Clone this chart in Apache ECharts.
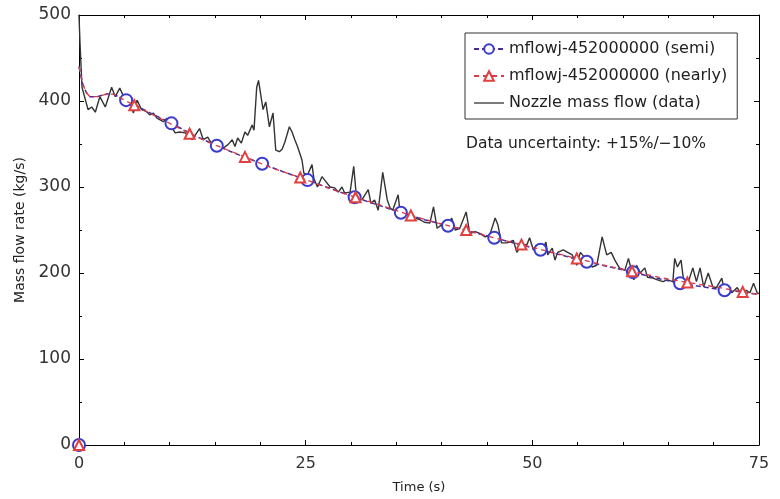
<!DOCTYPE html>
<html>
<head>
<meta charset="utf-8">
<script src="https://cdn.jsdelivr.net/npm/echarts@6/dist/echarts.min.js"></script>
<style>html,body{margin:0;padding:0;background:#fff}#c{width:780px;height:499px}</style>
</head>
<body>
<div id="c"></div>
<script>
// ---- data ----
const seriesNames = ['mflowj-452000000 (semi)', 'mflowj-452000000 (nearly)', 'Nozzle mass flow (data)'];
const xTicks = [0, 25, 50, 75];
const yTicks = [0, 100, 200, 300, 400, 500];

// null value = gap in the curve (origin point is drawn alone)
const semiTime  = [0, null, 0, 0.4, 0.8, 1.2, 2, 3, 3.8, 4.5, 5.2, 7.5, 10.2, 12.7, 15.2, 17.7, 20.2, 22.7, 25.2, 27.8, 30.4, 33, 35.5, 38.1, 40.7, 43.3, 45.8, 48.3, 50.9, 53.5, 56, 58.6, 61.1, 63.7, 66.3, 68.8, 71.2, 73, 75];
const semiValue = [0, null, 440, 420, 410, 405, 405, 408, 408, 404, 401, 388, 374, 360, 348, 337, 327, 317, 308, 298, 288, 279, 270, 262, 255, 248, 241, 234, 227, 220, 213, 207, 201, 194, 188, 184, 180, 178, 175];
const semiMarker = [1,0,0,0,0,0,0,0,0,0,1,0,1,0,1,0,1,0,1,0,1,0,1,0,1,0,1,0,1,0,1,0,1,0,1,0,1,0,0];

const nearlyTime  = [0, null, 0, 0.4, 0.8, 1.2, 2, 3, 3.8, 4.5, 6.1, 9.1, 12.2, 15.2, 18.3, 21.3, 24.4, 27.4, 30.5, 33.5, 36.6, 39.6, 42.7, 45.7, 48.8, 51.8, 54.9, 57.9, 61.0, 64.0, 67.1, 70.1, 73.2, 75];
const nearlyValue = [0, null, 440, 420, 410, 405, 405, 408, 408, 404, 395, 379, 362, 348, 335, 322, 311, 299, 288, 278, 267, 258, 250, 241, 233, 225, 217, 209, 202, 195, 189, 184, 178, 175];
const nearlyMarker = [1,0,0,0,0,0,0,0,0,0,1,0,1,0,1,0,1,0,1,0,1,0,1,0,1,0,1,0,1,0,1,0,1,0];

const dataTime = [0,0.1,0.33,1.0,1.4,1.8,2.3,2.9,3.6,4.0,4.5,5.1,5.4,6.0,6.4,6.9,7.4,7.8,8.2,8.6,9.3,9.7,10.0,10.6,11.1,11.7,12.5,12.8,13.3,13.7,14.2,14.8,15.3,15.9,16.4,16.9,17.2,17.5,17.9,18.3,18.6,19.1,19.3,19.6,19.8,20.3,20.6,21.0,21.4,21.7,22.1,22.4,22.7,23.2,23.5,23.8,24.1,24.6,24.8,25.2,25.7,25.9,26.3,26.8,27.1,27.7,28.2,28.6,29.0,29.3,29.9,30.3,30.6,31.2,31.9,32.2,32.6,33.0,33.5,34.0,34.3,34.6,35.2,35.4,35.9,36.5,37.0,37.6,38.1,38.7,39.1,39.5,40.0,40.6,41.1,41.5,42.0,42.7,43.1,43.7,44.2,44.8,45.3,45.9,46.2,46.6,47.2,47.9,48.3,48.8,49.4,49.7,50.1,50.6,51.0,51.5,51.7,52.2,52.5,52.8,53.4,53.9,54.4,54.9,55.3,55.7,56.1,56.6,57.1,57.7,58.2,58.7,59.1,59.6,60.2,60.6,61.0,61.2,61.5,61.9,62.4,62.7,63.3,63.8,64.4,64.9,65.5,65.7,66.0,66.4,66.7,67.1,67.7,68.1,68.5,68.9,69.4,69.9,70.3,70.9,71.2,71.6,72.0,72.6,73.1,73.6,74.0,74.4,74.8,75];
const dataValue = [500,470,416,390,393,387,405,393,416,405,415,401,407,386,401,390,388,384,386,380,376,380,374,363,364,363,355,360,368,355,358,347,351,345,349,355,347,357,351,364,360,372,366,416,424,390,399,370,386,343,341,344,352,370,364,355,347,331,316,314,326,310,300,312,308,300,299,294,300,293,294,324,288,285,297,281,285,273,317,285,276,273,291,271,270,267,264,262,259,258,277,252,256,252,264,250,252,271,246,248,246,242,244,264,256,235,235,238,224,233,233,241,227,229,224,236,221,229,215,224,227,224,221,209,224,219,212,207,209,242,221,224,215,206,203,217,200,192,209,200,206,195,194,192,190,192,190,217,207,215,190,186,206,190,206,184,200,184,183,194,178,184,177,183,174,180,177,188,177,176];

const uncertaintyText = 'Data uncertainty: +15%/\u221210%';

// ---- chart ----
const FONT = 'DejaVu Sans';
const chart = echarts.init(document.getElementById('c'), null, {renderer: 'canvas'});

function build(t, v, m) {
  return t.map((x, i) => {
    if (x === null || v[i] === null) return '-';
    return m[i] ? [x, v[i]] : {value: [x, v[i]], symbol: 'none'};
  });
}

function axis(extra) {
  return Object.assign({
    axisLine: {show: true, onZero: false, lineStyle: {color: '#000', width: 1}},
    axisTick: {show: true, inside: true, length: 5, lineStyle: {color: '#000'}},
    minorTick: {show: true, splitNumber: 2, length: 3, lineStyle: {color: '#000'}},
    splitLine: {show: false},
    minorSplitLine: {show: false}
  }, extra);
}
const xMinor = {show: true, splitNumber: 5, length: 3, lineStyle: {color: '#000'}};

chart.setOption({
  animation: false,
  backgroundColor: '#fff',
  textStyle: {fontFamily: FONT},
  grid: {left: 79, right: 21, top: 15, bottom: 54, containLabel: false},
  legend: {
    orient: 'vertical',
    left: 465, top: 33,
    data: [
      {name: seriesNames[0]},
      {name: seriesNames[1]},
      {name: seriesNames[2], icon: 'path://M0,0H30V1.3H0Z'}
    ],
    borderColor: '#333', borderWidth: 1, borderRadius: 0,
    padding: [8, 10, 8, 8],
    itemGap: 11,
    itemWidth: 30, itemHeight: 12,
    textStyle: {fontFamily: FONT, fontSize: 16, color: '#222'}
  },
  xAxis: [
    axis({
      type: 'value', min: 0, max: 75, interval: 25,
      name: 'Time (s)', nameLocation: 'middle', nameGap: 36,
      nameTextStyle: {fontFamily: FONT, fontSize: 13, color: '#222'},
      minorTick: xMinor,
      axisLabel: {fontFamily: FONT, fontSize: 16, color: '#333', margin: 11,
        formatter: v => xTicks.includes(v) ? String(v) : ''}
    }),
    axis({
      type: 'value', min: 0, max: 75, interval: 25, position: 'top',
      minorTick: xMinor,
      axisLabel: {show: false}
    })
  ],
  yAxis: [
    axis({
      type: 'value', min: 0, max: 500, interval: 100,
      name: 'Mass flow rate (kg/s)', nameLocation: 'middle', nameGap: 44, nameRotate: 90,
      nameTextStyle: {fontFamily: FONT, fontSize: 14, color: '#222'},
      axisLabel: {fontFamily: FONT, fontSize: 17, color: '#333', margin: 8,
        formatter: v => yTicks.includes(v) ? String(v) : ''}
    }),
    axis({
      type: 'value', min: 0, max: 500, interval: 100, position: 'right',
      axisLabel: {show: false}
    })
  ],
  series: [
    {
      name: seriesNames[2], type: 'line', xAxisIndex: 0, yAxisIndex: 0,
      data: dataTime.map((x, i) => [x, dataValue[i]]),
      symbol: 'none', showSymbol: false, z: 2,
      lineStyle: {color: '#333', width: 1.4},
      itemStyle: {color: '#333'}
    },
    {
      name: seriesNames[0], type: 'line', xAxisIndex: 0, yAxisIndex: 0,
      data: build(semiTime, semiValue, semiMarker),
      symbol: 'emptyCircle', symbolSize: 12, showAllSymbol: true, z: 3,
      connectNulls: false,
      lineStyle: {color: '#4a2a9a', width: 1.5, type: [5, 3]},
      itemStyle: {color: '#3a3acc', borderColor: '#3a3acc', borderWidth: 1.1}
    },
    {
      name: seriesNames[1], type: 'line', xAxisIndex: 0, yAxisIndex: 0,
      data: build(nearlyTime, nearlyValue, nearlyMarker),
      symbol: 'emptyTriangle', symbolSize: 10, showAllSymbol: true, z: 4,
      connectNulls: false,
      lineStyle: {color: '#d83a4a', width: 1.3, type: [5, 4]},
      itemStyle: {color: '#e04040', borderColor: '#e04040', borderWidth: 1.1}
    }
  ],
  graphic: [
    {type: 'text', left: 466, top: 136,
      style: {text: uncertaintyText, font: '15.5px "DejaVu Sans"', fill: '#222'}}
  ]
});
</script>
</body>
</html>
